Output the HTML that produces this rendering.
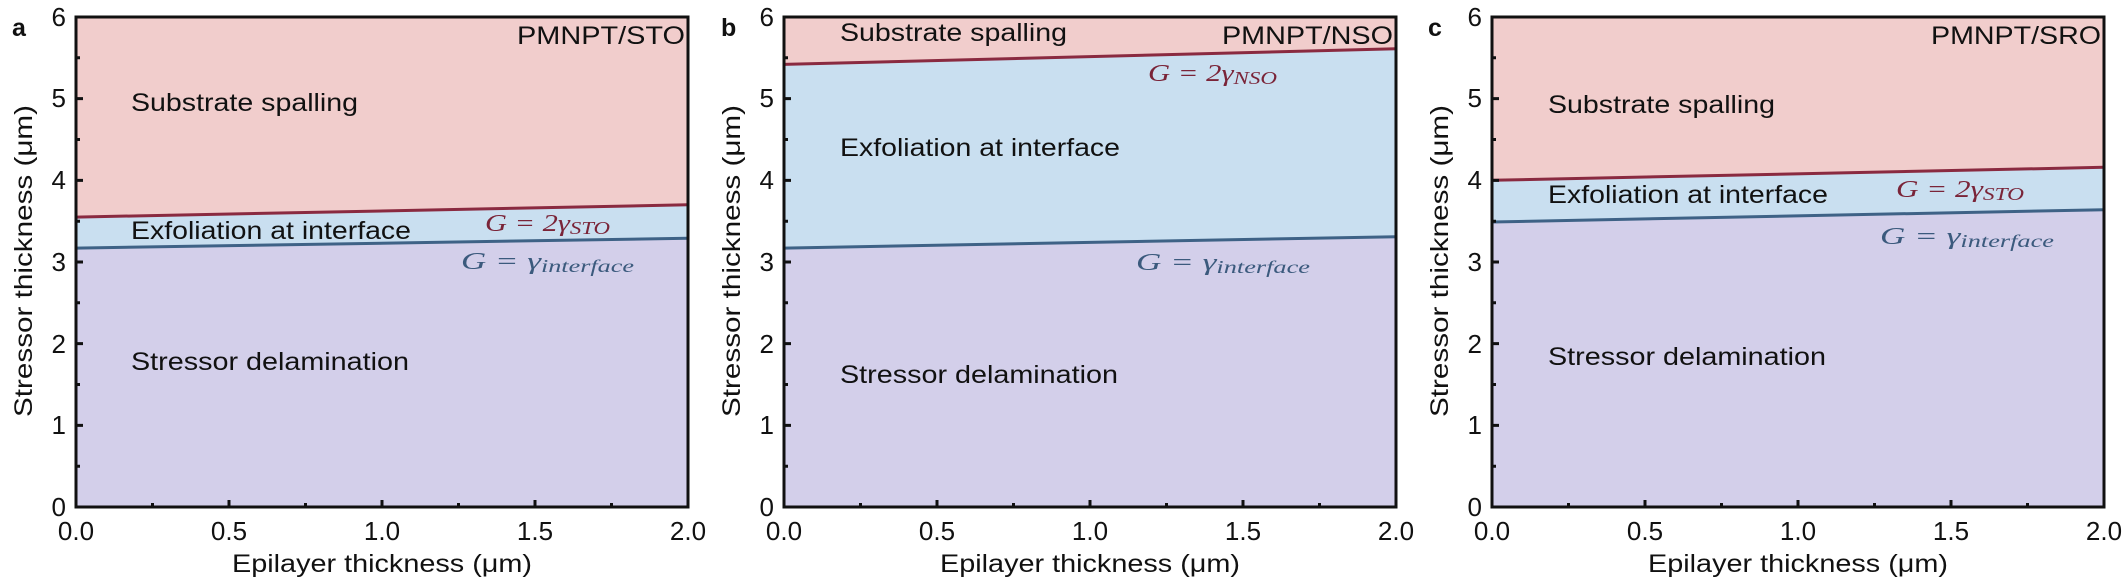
<!DOCTYPE html>
<html><head><meta charset="utf-8"><style>
html,body{margin:0;padding:0;background:#fff;}
svg{display:block;}
text{font-family:"Liberation Sans",Arial,sans-serif;fill:#111;}
.m{font-family:"Liberation Serif",serif;font-style:italic;font-size:24px;}
.ax{font-size:26px;}
.lb{font-size:25px;}
</style></head><body>
<svg width="2127" height="586" viewBox="0 0 2127 586" xmlns="http://www.w3.org/2000/svg">
<defs>
<g id="axes">
  <path d="M0 0h7M0 81.67h7M0 163.33h7M0 245h7M0 326.67h7M0 408.33h7M0 490h7M0 40.8h4M0 122.5h4M0 204.2h4M0 285.8h4M0 367.5h4M0 449.2h4M0 490v-7M153 490v-7M306 490v-7M459 490v-7M612 490v-7M76.5 490v-4M229.5 490v-4M382.5 490v-4M535.5 490v-4" stroke="#111" stroke-width="3" fill="none"/>
  <rect x="0" y="0" width="612" height="490" fill="none" stroke="#111" stroke-width="3"/>
  <g class="ax" text-anchor="end">
    <text x="-10" y="499">0</text><text x="-10" y="417">1</text><text x="-10" y="336">2</text>
    <text x="-10" y="254">3</text><text x="-10" y="172">4</text><text x="-10" y="90">5</text><text x="-10" y="9">6</text>
  </g>
  <g class="ax" text-anchor="middle">
    <text x="0" y="523">0.0</text><text x="153" y="523">0.5</text><text x="306" y="523">1.0</text>
    <text x="459" y="523">1.5</text><text x="612" y="523">2.0</text>
  </g>
  <text x="156" y="555" style="font-size:25px" textLength="300" lengthAdjust="spacingAndGlyphs">Epilayer thickness (μm)</text>
  <text transform="translate(-44,244) rotate(-90)" x="-156" y="0" style="font-size:25px" textLength="312" lengthAdjust="spacingAndGlyphs">Stressor thickness (μm)</text>
</g>
</defs>

<!-- Panel a -->
<g transform="translate(76,17)">
  <rect x="0" y="0" width="612" height="490" fill="#f1cdcc"/>
  <polygon points="0,200.1 612,187.8 612,490 0,490" fill="#c9dff0"/>
  <polygon points="0,231.1 612,221.3 612,490 0,490" fill="#d3cfea"/>
  <line x1="0" y1="200.1" x2="612" y2="187.8" stroke="#8a2a40" stroke-width="3"/>
  <line x1="0" y1="231.1" x2="612" y2="221.3" stroke="#3e6286" stroke-width="3"/>
  <use href="#axes"/>
  <text x="55" y="94" class="lb" textLength="227" lengthAdjust="spacingAndGlyphs">Substrate spalling</text>
  <text x="55" y="222" class="lb" textLength="280" lengthAdjust="spacingAndGlyphs">Exfoliation at interface</text>
  <text x="55" y="353" class="lb" textLength="278" lengthAdjust="spacingAndGlyphs">Stressor delamination</text>
  <text x="441" y="27" class="lb" textLength="168" lengthAdjust="spacingAndGlyphs">PMNPT/STO</text>
  <text x="409" y="214" class="m" style="fill:#7a2438" textLength="125" lengthAdjust="spacingAndGlyphs">G = 2γ<tspan font-size="18" dy="3">STO</tspan></text>
  <text x="385" y="252" class="m" style="fill:#3b5a7d" textLength="173" lengthAdjust="spacingAndGlyphs">G = γ<tspan font-size="18" dy="3">interface</tspan></text>
</g>
<text x="12" y="36" style="font-size:25px;font-weight:bold">a</text>

<!-- Panel b -->
<g transform="translate(784,17)">
  <rect x="0" y="0" width="612" height="490" fill="#f1cdcc"/>
  <polygon points="0,47.4 612,31.8 612,490 0,490" fill="#c9dff0"/>
  <polygon points="0,231.1 612,219.7 612,490 0,490" fill="#d3cfea"/>
  <line x1="0" y1="47.4" x2="612" y2="31.8" stroke="#8a2a40" stroke-width="3"/>
  <line x1="0" y1="231.1" x2="612" y2="219.7" stroke="#3e6286" stroke-width="3"/>
  <use href="#axes"/>
  <text x="56" y="24" class="lb" textLength="227" lengthAdjust="spacingAndGlyphs">Substrate spalling</text>
  <text x="56" y="139" class="lb" textLength="280" lengthAdjust="spacingAndGlyphs">Exfoliation at interface</text>
  <text x="56" y="366" class="lb" textLength="278" lengthAdjust="spacingAndGlyphs">Stressor delamination</text>
  <text x="438" y="27" class="lb" textLength="171" lengthAdjust="spacingAndGlyphs">PMNPT/NSO</text>
  <text x="364" y="64" class="m" style="fill:#7a2438" textLength="129" lengthAdjust="spacingAndGlyphs">G = 2γ<tspan font-size="18" dy="3">NSO</tspan></text>
  <text x="352" y="253" class="m" style="fill:#3b5a7d" textLength="174" lengthAdjust="spacingAndGlyphs">G = γ<tspan font-size="18" dy="3">interface</tspan></text>
</g>
<text x="721" y="36" style="font-size:25px;font-weight:bold">b</text>

<!-- Panel c -->
<g transform="translate(1492,17)">
  <rect x="0" y="0" width="612" height="490" fill="#f1cdcc"/>
  <polygon points="0,163.3 612,150.3 612,490 0,490" fill="#c9dff0"/>
  <polygon points="0,205 612,192.7 612,490 0,490" fill="#d3cfea"/>
  <line x1="0" y1="163.3" x2="612" y2="150.3" stroke="#8a2a40" stroke-width="3"/>
  <line x1="0" y1="205" x2="612" y2="192.7" stroke="#3e6286" stroke-width="3"/>
  <use href="#axes"/>
  <text x="56" y="96" class="lb" textLength="227" lengthAdjust="spacingAndGlyphs">Substrate spalling</text>
  <text x="56" y="186" class="lb" textLength="280" lengthAdjust="spacingAndGlyphs">Exfoliation at interface</text>
  <text x="56" y="348" class="lb" textLength="278" lengthAdjust="spacingAndGlyphs">Stressor delamination</text>
  <text x="439" y="27" class="lb" textLength="170" lengthAdjust="spacingAndGlyphs">PMNPT/SRO</text>
  <text x="404" y="180" class="m" style="fill:#7a2438" textLength="128" lengthAdjust="spacingAndGlyphs">G = 2γ<tspan font-size="18" dy="3">STO</tspan></text>
  <text x="388" y="227" class="m" style="fill:#3b5a7d" textLength="174" lengthAdjust="spacingAndGlyphs">G = γ<tspan font-size="18" dy="3">interface</tspan></text>
</g>
<text x="1428" y="36" style="font-size:25px;font-weight:bold">c</text>
</svg>
</body></html>
